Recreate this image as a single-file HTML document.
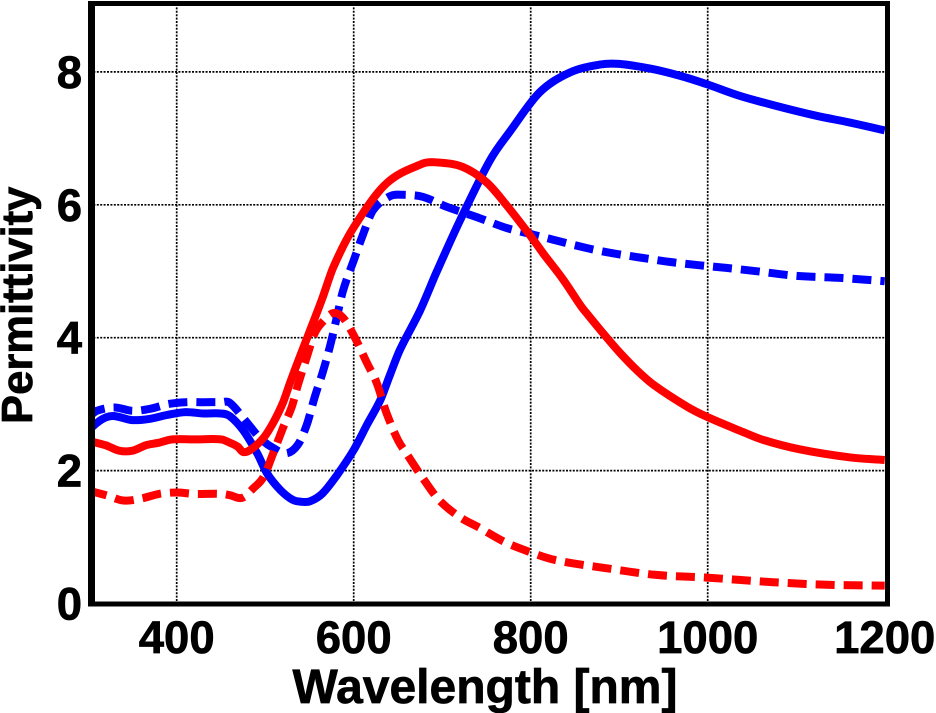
<!DOCTYPE html>
<html>
<head>
<meta charset="utf-8">
<title>Permittivity vs Wavelength</title>
<style>
html,body{margin:0;padding:0;background:#fff;width:936px;height:713px;overflow:hidden}
svg{display:block}
text{font-family:"Liberation Sans",Arial,sans-serif;font-weight:bold;fill:#000;stroke:#000;stroke-width:0.7px}
</style>
</head>
<body>
<svg id="chart" width="936" height="713" viewBox="0 0 936 713" xmlns="http://www.w3.org/2000/svg">
  <defs><clipPath id="plot-clip"><rect x="88" y="4" width="797" height="600"/></clipPath></defs>
  <g id="grid"></g>
  <g id="series" clip-path="url(#plot-clip)"></g>
  <g id="frame">
    <rect x="88" y="1" width="802" height="5" fill="#000"/>
    <rect x="88" y="601.5" width="802" height="5" fill="#000"/>
    <rect x="88" y="1" width="7" height="605.5" fill="#000"/>
    <rect x="885" y="1" width="5" height="605.5" fill="#000"/>
  </g>
  <g id="labels"></g>
  <text x="485" y="703" text-anchor="middle" font-size="48">Wavelength [nm]</text>
  <text transform="translate(32,424) rotate(-90)" font-size="43.6">Permittivity</text>
</svg>
<script>
const xTicks = [400, 600, 800, 1000, 1200];
const yTicks = [0, 2, 4, 6, 8];

const blueSolidNm = [300,310,320,330,350,370,390,410,430,450,460,475,491,502,517,531,541,551,565,581,600,615,630,641,652,675,694,720,754,777,810,844,878,900,935,969,1000,1036,1074,1123,1160,1200];
const blueSolidVal = [2.6,2.72,2.8,2.82,2.76,2.78,2.84,2.88,2.86,2.86,2.82,2.61,2.26,1.96,1.71,1.56,1.53,1.54,1.66,1.93,2.31,2.69,3.06,3.44,3.81,4.41,5.0,5.76,6.67,7.11,7.69,7.99,8.11,8.12,8.05,7.94,7.81,7.64,7.5,7.34,7.24,7.12];

const blueDashNm = [300,310,330,350,370,390,410,430,450,460,479,494,509,524,537,547,556,565,573,581,588,601,611,622,641,656,678,705,742,773,803,863,893,927,957,991,1021,1056,1100,1150,1200];
const blueDashVal = [2.8,2.9,2.95,2.9,2.93,3.0,3.03,3.03,3.03,3.02,2.73,2.49,2.34,2.26,2.39,2.69,3.11,3.48,3.86,4.31,4.71,5.2,5.57,5.92,6.13,6.15,6.12,5.97,5.8,5.65,5.55,5.35,5.27,5.2,5.14,5.09,5.05,5.0,4.93,4.9,4.85];

const redSolidNm = [300,320,335,350,365,380,395,420,450,460,469,475,483,498,509,520,528,539,551,564,577,600,637,678,693,723,750,773,801,814,837,856,863,886,901,920,939,977,999,1040,1063,1104,1160,1200];
const redSolidVal = [2.45,2.38,2.3,2.3,2.38,2.42,2.47,2.47,2.47,2.42,2.36,2.28,2.31,2.49,2.72,3.02,3.32,3.71,4.12,4.57,5.06,5.66,6.32,6.62,6.64,6.57,6.34,5.99,5.51,5.27,4.87,4.49,4.37,4.0,3.77,3.51,3.29,2.96,2.81,2.58,2.46,2.32,2.2,2.16];

const redDashNm = [300,320,340,360,380,400,420,450,460,474,487,498,509,520,530,537,547,556,565,577,588,601,615,626,637,650,660,680,697,720,742,770,798,829,886,942,999,1074,1139,1200];
const redDashVal = [1.7,1.63,1.55,1.58,1.65,1.67,1.65,1.65,1.63,1.59,1.74,1.9,2.26,2.64,2.96,3.29,3.71,4.07,4.24,4.37,4.3,4.01,3.62,3.32,2.87,2.46,2.25,1.85,1.55,1.3,1.14,0.93,0.78,0.65,0.53,0.43,0.39,0.32,0.28,0.27];

const NS = 'http://www.w3.org/2000/svg';
function xScale(nm) { return 176.7 + (nm - 400) * 0.885; }
function yScale(v) { return 603.5 - v * 66.45; }

const gridG = document.getElementById('grid');
const seriesG = document.getElementById('series');
const labelG = document.getElementById('labels');

xTicks.forEach(function (t) {
  if (t === 1200) return;
  const l = document.createElementNS(NS, 'line');
  
  
  l.setAttribute('x1', xScale(t));
  l.setAttribute('x2', xScale(t));
  l.setAttribute('y1', 4);
  l.setAttribute('y2', 603);
  l.setAttribute('stroke', '#000');
  l.setAttribute('stroke-width', '1.7');
  l.setAttribute('stroke-dasharray', '2 1.4');
  gridG.appendChild(l);
});
yTicks.forEach(function (t) {
  if (t === 0) return;
  const l = document.createElementNS(NS, 'line');
  
  
  l.setAttribute('x1', 90);
  l.setAttribute('x2', 886);
  l.setAttribute('y1', yScale(t));
  l.setAttribute('y2', yScale(t));
  l.setAttribute('stroke', '#000');
  l.setAttribute('stroke-width', '1.7');
  l.setAttribute('stroke-dasharray', '2 1.4');
  gridG.appendChild(l);
});

function smoothPath(nm, val) {
  const pts = nm.map(function (n, i) { return [xScale(n), yScale(val[i])]; });
  let d = 'M' + pts[0][0].toFixed(1) + ',' + pts[0][1].toFixed(1);
  for (let i = 0; i < pts.length - 1; i++) {
    const p0 = pts[Math.max(i - 1, 0)], p1 = pts[i], p2 = pts[i + 1], p3 = pts[Math.min(i + 2, pts.length - 1)];
    const dx = (p2[0] - p1[0]) / 3;
    const m1 = (p2[1] - p0[1]) / (p2[0] - p0[0]);
    const m2 = (p3[1] - p1[1]) / (p3[0] - p1[0]);
    d += 'C' + (p1[0] + dx).toFixed(1) + ',' + (p1[1] + m1 * dx).toFixed(1) + ' ' +
         (p2[0] - dx).toFixed(1) + ',' + (p2[1] - m2 * dx).toFixed(1) + ' ' +
         p2[0].toFixed(1) + ',' + p2[1].toFixed(1);
  }
  return d;
}

function drawSeries(nm, val, color, dash, name) {
  const p = document.createElementNS(NS, 'path');
  
  
  p.setAttribute('d', smoothPath(nm, val));
  p.setAttribute('fill', 'none');
  p.setAttribute('stroke', color);
  p.setAttribute('stroke-width', '8');
  p.setAttribute('stroke-linejoin', 'round');
  if (dash) p.setAttribute('stroke-dasharray', '19 9');
  seriesG.appendChild(p);
}
drawSeries(blueDashNm, blueDashVal, '#0000ff', true, 'blue-dashed-series');
drawSeries(blueSolidNm, blueSolidVal, '#0000ff', false, 'blue-solid-series');
drawSeries(redDashNm, redDashVal, '#ff0000', true, 'red-dashed-series');
drawSeries(redSolidNm, redSolidVal, '#ff0000', false, 'red-solid-series');

xTicks.forEach(function (t) {
  const s = document.createElementNS(NS, 'text');
  
  
  s.setAttribute('x', xScale(t));
  s.setAttribute('y', 653);
  s.setAttribute('text-anchor', 'middle');
  s.setAttribute('font-size', '45.5');
  s.textContent = t;
  labelG.appendChild(s);
});
yTicks.forEach(function (t) {
  const s = document.createElementNS(NS, 'text');
  
  
  s.setAttribute('x', 82);
  s.setAttribute('y', yScale(t) + 16);
  s.setAttribute('text-anchor', 'end');
  s.setAttribute('font-size', '45.5');
  s.textContent = t;
  labelG.appendChild(s);
});
</script>
</body>
</html>
